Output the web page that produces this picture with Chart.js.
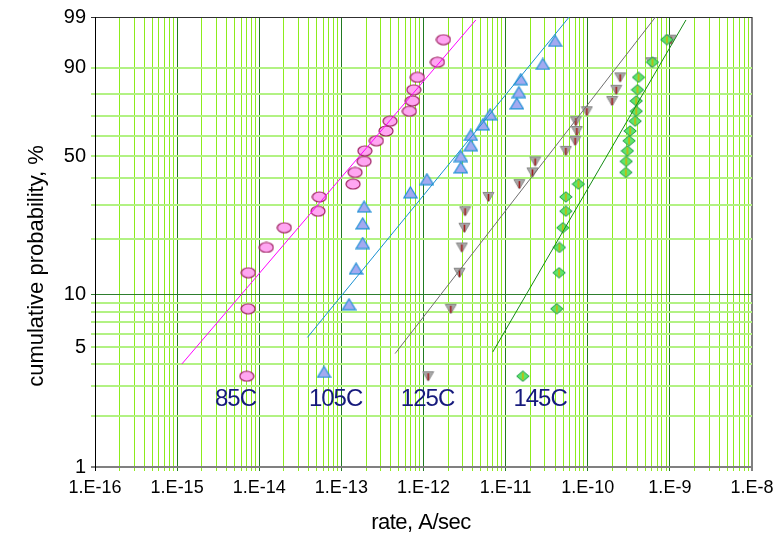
<!DOCTYPE html>
<html>
<head>
<meta charset="utf-8">
<title>cumulative probability vs rate</title>
<script src="https://cdn.jsdelivr.net/npm/chart.js@4.4.1/dist/chart.umd.min.js"></script>
<style>
    html, body { margin: 0; padding: 0; background: #fff; }
    canvas { display: block; }
</style>
</head>
<body>
<canvas id="rateChart" width="784" height="536"></canvas>
<script>
/* ===== DATA ===== */
const seriesNames = ['85C', '105C', '125C', '145C'];

// 85C (pink circles)
const rate85 = [7.05e-15, 7.31e-15, 7.36e-15, 1.22e-14, 2.02e-14, 5.20e-14, 5.40e-14, 1.39e-13, 1.47e-13, 1.89e-13,
                1.93e-13, 2.67e-13, 3.50e-13, 3.92e-13, 6.73e-13, 7.33e-13, 7.62e-13, 8.43e-13, 1.48e-12, 1.75e-12];
const pct85 = [3.4, 8.3, 13.2, 18.1, 23.0, 27.9, 32.8, 37.7, 42.6, 47.5,
               52.5, 57.4, 62.3, 67.2, 72.1, 77.0, 81.9, 86.8, 91.7, 96.6];

// 105C (blue triangles)
const rate105 = [6.15e-14, 1.24e-13, 1.51e-13, 1.82e-13, 1.82e-13, 1.89e-13, 6.93e-13, 1.10e-12, 2.85e-12, 2.85e-12,
                 3.77e-12, 3.77e-12, 5.27e-12, 6.47e-12, 1.37e-11, 1.45e-11, 1.53e-11, 2.84e-11, 4.01e-11];
const pct105 = [3.6, 8.8, 13.9, 19.1, 24.2, 29.4, 34.5, 39.7, 44.8, 50.0,
                55.2, 60.3, 65.5, 70.6, 75.8, 80.9, 86.1, 91.2, 96.4];

// 125C (grey down triangles)
const rate125 = [1.14e-12, 2.15e-12, 2.74e-12, 2.93e-12, 3.15e-12, 3.21e-12, 6.17e-12, 1.47e-11, 2.12e-11, 2.29e-11,
                 5.41e-11, 7.02e-11, 7.36e-11, 7.16e-11, 9.75e-11, 1.98e-10, 2.22e-10, 2.48e-10, 5.92e-10, 1.03e-9];
const pct125 = [3.4, 8.3, 13.2, 18.1, 23.0, 27.9, 32.8, 37.7, 42.6, 47.5,
                52.5, 57.4, 62.3, 67.2, 72.1, 77.0, 81.9, 86.8, 91.7, 96.6];

// 145C (green diamonds)
const rate145 = [1.62e-11, 4.20e-11, 4.48e-11, 4.52e-11, 4.97e-11, 5.41e-11, 5.41e-11, 7.70e-11, 2.91e-10, 2.94e-10,
                 3.04e-10, 3.19e-10, 3.28e-10, 3.78e-10, 3.89e-10, 3.89e-10, 4.03e-10, 4.15e-10, 6.14e-10, 9.19e-10];
const pct145 = [3.4, 8.3, 13.2, 18.1, 23.0, 27.9, 32.8, 37.7, 42.6, 47.5,
                52.5, 57.4, 62.3, 67.2, 72.1, 77.0, 81.9, 86.8, 91.7, 96.6];

// fit lines (end points)
const fitRate85 = [1.14e-15, 4.34e-12];
const fitPct85 = [4.0, 98.8];
const fitRate105 = [3.86e-14, 5.94e-11];
const fitPct105 = [5.7, 99];
const fitRate125 = [4.51e-13, 6.68e-10];
const fitPct125 = [4.6, 99];
const fitRate145 = [6.98e-12, 1.57e-9];
const fitPct145 = [4.7, 98.8];

// where the temperature labels sit (data coords)
const labelRate = [5.14e-15, 8.5e-14, 1.12e-12, 2.63e-11];
const labelPct = [2.5, 2.5, 2.5, 2.5];

// axis ticks
const yGridPct = [1, 2, 3, 4, 5, 6, 7, 8, 9, 10, 20, 30, 40, 50, 60, 70, 80, 90, 99];
const yLabelPct = [1, 5, 10, 50, 90, 99];
const xDecades = [-16, -15, -14, -13, -12, -11, -10, -9, -8];

/* ===== HELPERS ===== */
// Weibull probability scale: ln(-ln(1-F))
function weib(p) {
    return Math.log(-Math.log(1 - p / 100));
}

function toPoints(rates, pcts) {
    return rates.map((r, i) => ({ x: r, y: weib(pcts[i]) }));
}

function isDecade(v) {
    const l = Math.log10(v);
    return Math.abs(l - Math.round(l)) < 1e-9;
}

// all 1..9 x 10^n positions for the log grid
const xGrid = [];
xDecades.forEach((d, i) => {
    if (i === xDecades.length - 1) {
        xGrid.push(Math.pow(10, d));
        return;
    }
    for (let k = 1; k <= 9; k++) xGrid.push(k * Math.pow(10, d));
});

// small canvases used as point styles
function makeMarker(w, h, draw) {
    const c = document.createElement('canvas');
    c.width = w;
    c.height = h;
    draw(c.getContext('2d'));
    return c;
}

const pinkOval = makeMarker(16, 12, g => {
    g.beginPath();
    g.ellipse(8, 6, 7, 5, 0, 0, Math.PI * 2);
    g.fillStyle = '#ffa6f2';
    g.fill();
    g.lineWidth = 1.2;
    g.strokeStyle = '#9c1f5e';
    g.stroke();
});

const blueTriangle = makeMarker(15, 13, g => {
    g.beginPath();
    g.moveTo(7.5, 1);
    g.lineTo(14, 11.8);
    g.lineTo(1, 11.8);
    g.closePath();
    g.fillStyle = '#a3aaf0';
    g.fill();
    g.lineWidth = 1.2;
    g.strokeStyle = '#1f8fd6';
    g.stroke();
});

const greyTriangle = makeMarker(13, 12, g => {
    g.beginPath();
    g.moveTo(1, 1.5);
    g.lineTo(12, 1.5);
    g.lineTo(6.5, 11);
    g.closePath();
    g.fillStyle = '#a8a8a8';
    g.fill();
    g.lineWidth = 1;
    g.strokeStyle = '#8a8a8a';
    g.stroke();
    g.beginPath();
    g.moveTo(6.5, 3);
    g.lineTo(6.5, 10);
    g.lineWidth = 1.6;
    g.strokeStyle = '#a01818';
    g.stroke();
});

const greenDiamond = makeMarker(14, 12, g => {
    g.beginPath();
    g.moveTo(7, 0.8);
    g.lineTo(13.2, 6);
    g.lineTo(7, 11.2);
    g.lineTo(0.8, 6);
    g.closePath();
    g.fillStyle = '#5ee66a';
    g.fill();
    g.lineWidth = 1;
    g.strokeStyle = '#1f9a4a';
    g.stroke();
    g.beginPath();
    g.moveTo(7, 2.5);
    g.lineTo(7, 9.5);
    g.lineWidth = 1.5;
    g.strokeStyle = '#d4b000';
    g.stroke();
});

function markerSet(label, rates, pcts, img, order) {
    return {
        label: label,
        data: toPoints(rates, pcts),
        pointStyle: img,
        pointRadius: 6,
        showLine: false,
        order: order
    };
}

function fitSet(label, rates, pcts, color) {
    return {
        label: label + ' fit',
        data: toPoints(rates, pcts),
        showLine: true,
        borderColor: color,
        borderWidth: 1,
        pointRadius: 0,
        fill: false,
        order: 0
    };
}

/* ===== TEXT LABELS ===== */
const textPlugin = {
    id: 'chartTexts',
    afterDatasetsDraw(chart) {
        const { ctx, scales: { x, y } } = chart;
        ctx.save();
        ctx.font = '24px "Liberation Sans", Arial, sans-serif';
        ctx.letterSpacing = '-1px';
        ctx.fillStyle = '#161a7c';
        ctx.textAlign = 'center';
        ctx.textBaseline = 'middle';
        seriesNames.forEach((name, i) => {
            ctx.fillText(name, x.getPixelForValue(labelRate[i]), y.getPixelForValue(weib(labelPct[i])));
        });

        // axis titles
        ctx.fillStyle = '#000';
        ctx.font = '22px "Liberation Sans", Arial, sans-serif';
        ctx.letterSpacing = '-0.5px';
        ctx.fillText('rate, A/sec', 421, 523);
        ctx.letterSpacing = '0px';
        ctx.translate(37, 266);
        ctx.rotate(-Math.PI / 2);
        ctx.fillText('cumulative probability, %', 0, 0);
        ctx.restore();
    }
};

/* ===== CHART ===== */
const fontFamily = '"Liberation Sans", Arial, sans-serif';

new Chart(document.getElementById('rateChart'), {
    type: 'scatter',
    data: {
        datasets: [
            fitSet(seriesNames[0], fitRate85, fitPct85, '#ff00ff'),
            fitSet(seriesNames[1], fitRate105, fitPct105, '#1890d0'),
            fitSet(seriesNames[2], fitRate125, fitPct125, '#6e6e6e'),
            fitSet(seriesNames[3], fitRate145, fitPct145, '#138a13'),
            markerSet(seriesNames[3], rate145, pct145, greenDiamond, 1),
            markerSet(seriesNames[2], rate125, pct125, greyTriangle, 2),
            markerSet(seriesNames[1], rate105, pct105, blueTriangle, 3),
            markerSet(seriesNames[0], rate85, pct85, pinkOval, 4)
        ]
    },
    options: {
        responsive: false,
        animation: false,
        devicePixelRatio: 1,
        layout: { padding: { top: 16, right: 32, left: 0, bottom: 0 } },
        plugins: {
            legend: { display: false },
            tooltip: { enabled: false }
        },
        scales: {
            x: {
                type: 'logarithmic',
                min: 1e-16,
                max: 1e-8,
                afterBuildTicks: axis => {
                    axis.ticks = xGrid.map(v => ({ value: v }));
                },
                afterFit: scale => {
                    scale.height = 69;
                },
                ticks: {
                    autoSkip: false,
                    maxRotation: 0,
                    minRotation: 0,
                    padding: 6,
                    color: '#000',
                    font: { family: fontFamily, size: 18 },
                    callback: v => isDecade(v) ? '1.E' + Math.round(Math.log10(v)) : ''
                },
                grid: {
                    tickLength: 4,
                    color: ctx => {
                        const v = ctx.tick ? ctx.tick.value : 0;
                        if (v === 1e-16) return '#000';
                        if (v === 1e-8) return '#808080';
                        if (isDecade(v)) return '#217a21';
                        return '#8cec1c';
                    },
                    lineWidth: ctx => (ctx.tick && ctx.tick.value === 1e-8) ? 2 : 1
                },
                border: { color: '#808080', width: 2 }
            },
            y: {
                type: 'linear',
                min: weib(1),
                max: weib(99),
                afterBuildTicks: axis => {
                    axis.ticks = yGridPct.map(p => ({ value: weib(p) }));
                },
                afterFit: scale => {
                    scale.width = 95;
                },
                ticks: {
                    autoSkip: false,
                    padding: 5,
                    color: '#000',
                    font: { family: fontFamily, size: 20 },
                    callback: (v, i) => yLabelPct.includes(yGridPct[i]) ? String(yGridPct[i]) : ''
                },
                grid: {
                    tickLength: 4,
                    color: ctx => {
                        const p = yGridPct[ctx.index];
                        if (p === 99) return '#303030';
                        if (p === 10) return '#2e7d2e';
                        if (p === 1) return '#808080';
                        return '#b2f283';
                    },
                    lineWidth: ctx => {
                        const p = yGridPct[ctx.index];
                        return (p === 99 || p === 10) ? 1 : 2;
                    }
                },
                border: { color: '#000', width: 1 }
            }
        }
    },
    plugins: [textPlugin]
});
</script>
</body>
</html>
